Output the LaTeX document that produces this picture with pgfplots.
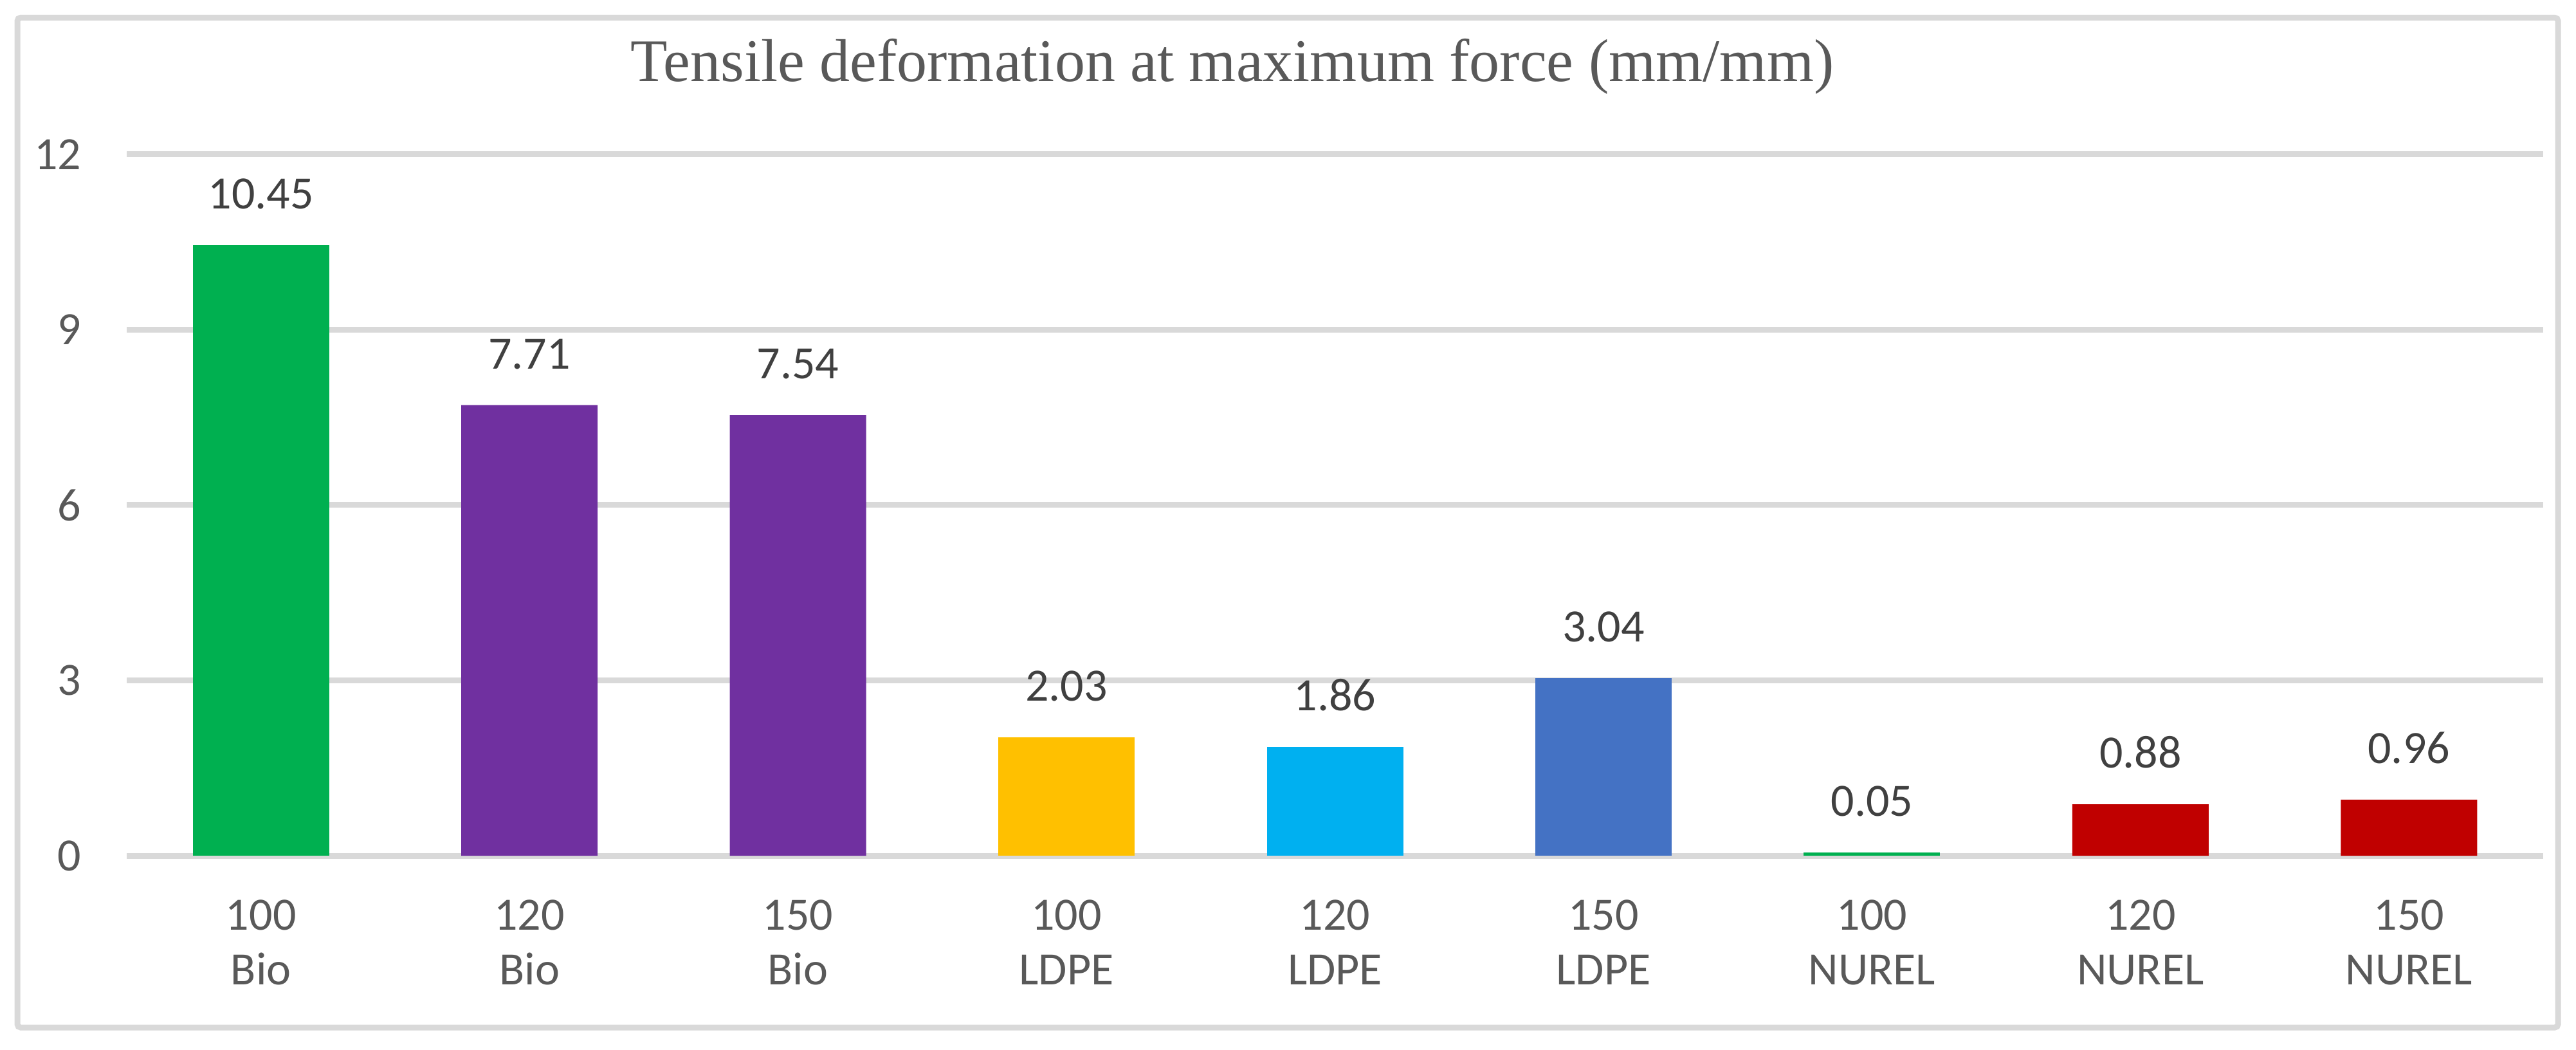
\documentclass[border=0pt]{standalone}
\usepackage{pgfplots}
\pgfplotsset{compat=1.18}
\usepackage{fontspec}
\setmainfont{Carlito}
\newfontfamily\titlefont{Liberation Serif}
\definecolor{gridgray}{HTML}{D9D9D9}
\definecolor{ticktext}{HTML}{595959}
\definecolor{labeltext}{HTML}{404040}
\definecolor{cgreen}{HTML}{00B050}
\definecolor{cpurple}{HTML}{7030A0}
\definecolor{cyellow}{HTML}{FFC000}
\definecolor{ccyan}{HTML}{00B0F0}
\definecolor{cblue}{HTML}{4472C4}
\definecolor{cred}{HTML}{C00000}
\begin{document}
\begin{tikzpicture}[x=1pt,y=1pt]
\useasboundingbox (0,0) rectangle (400.5,163.1);
\draw[gridgray, line width=0.9pt, rounded corners=0.5pt] (2.7,3.4) rectangle (397.7,160.35);
\node[anchor=base, inner sep=0pt, text=ticktext, font=\titlefont\fontsize{9.4}{11}\selectfont] at (191.6,150.4) {Tensile deformation at maximum force (mm/mm)};
\begin{axis}[
  at={(19.7pt,30.1pt)}, anchor=south west,
  scale only axis, width=375.7pt, height=109pt,
  xmin=-0.5, xmax=8.5, ymin=0, ymax=12,
  ytick={0,3,6,9,12},
  xtick={0,...,8},
  xticklabels={{100\\Bio},{120\\Bio},{150\\Bio},{100\\LDPE},{120\\LDPE},{150\\LDPE},{100\\NUREL},{120\\NUREL},{150\\NUREL}},
  axis line style={draw=none},
  major tick length=0pt,
  ymajorgrids,
  grid style={gridgray, line width=0.9pt},
  /pgf/number format/assume math mode=true,
  yticklabel style={anchor=east, inner sep=0pt, xshift=-6.9pt, text=ticktext, font=\fontsize{7.2}{8.5}\selectfont},
  xticklabel style={anchor=north, align=center, inner sep=0pt, yshift=-6.7pt, text=ticktext, font=\fontsize{7.2}{8.5}\selectfont},
  nodes near coords,
  nodes near coords style={anchor=south, inner sep=0pt, yshift=5.4pt, text=labeltext, font=\fontsize{7.2}{8.5}\selectfont, /pgf/number format/.cd, fixed, precision=2, zerofill},
  clip=false,
  axis on top=false,
]
\addplot[ybar, bar width=21.2pt, fill=cgreen, draw=none] coordinates {(0,10.45)};
\addplot[ybar, bar width=21.2pt, fill=cpurple, draw=none] coordinates {(1,7.71) (2,7.54)};
\addplot[ybar, bar width=21.2pt, fill=cyellow, draw=none] coordinates {(3,2.03)};
\addplot[ybar, bar width=21.2pt, fill=ccyan, draw=none] coordinates {(4,1.86)};
\addplot[ybar, bar width=21.2pt, fill=cblue, draw=none] coordinates {(5,3.04)};
\addplot[ybar, bar width=21.2pt, fill=cgreen, draw=none] coordinates {(6,0.05)};
\addplot[ybar, bar width=21.2pt, fill=cred, draw=none] coordinates {(7,0.88) (8,0.96)};
\end{axis}
\end{tikzpicture}
\end{document}
